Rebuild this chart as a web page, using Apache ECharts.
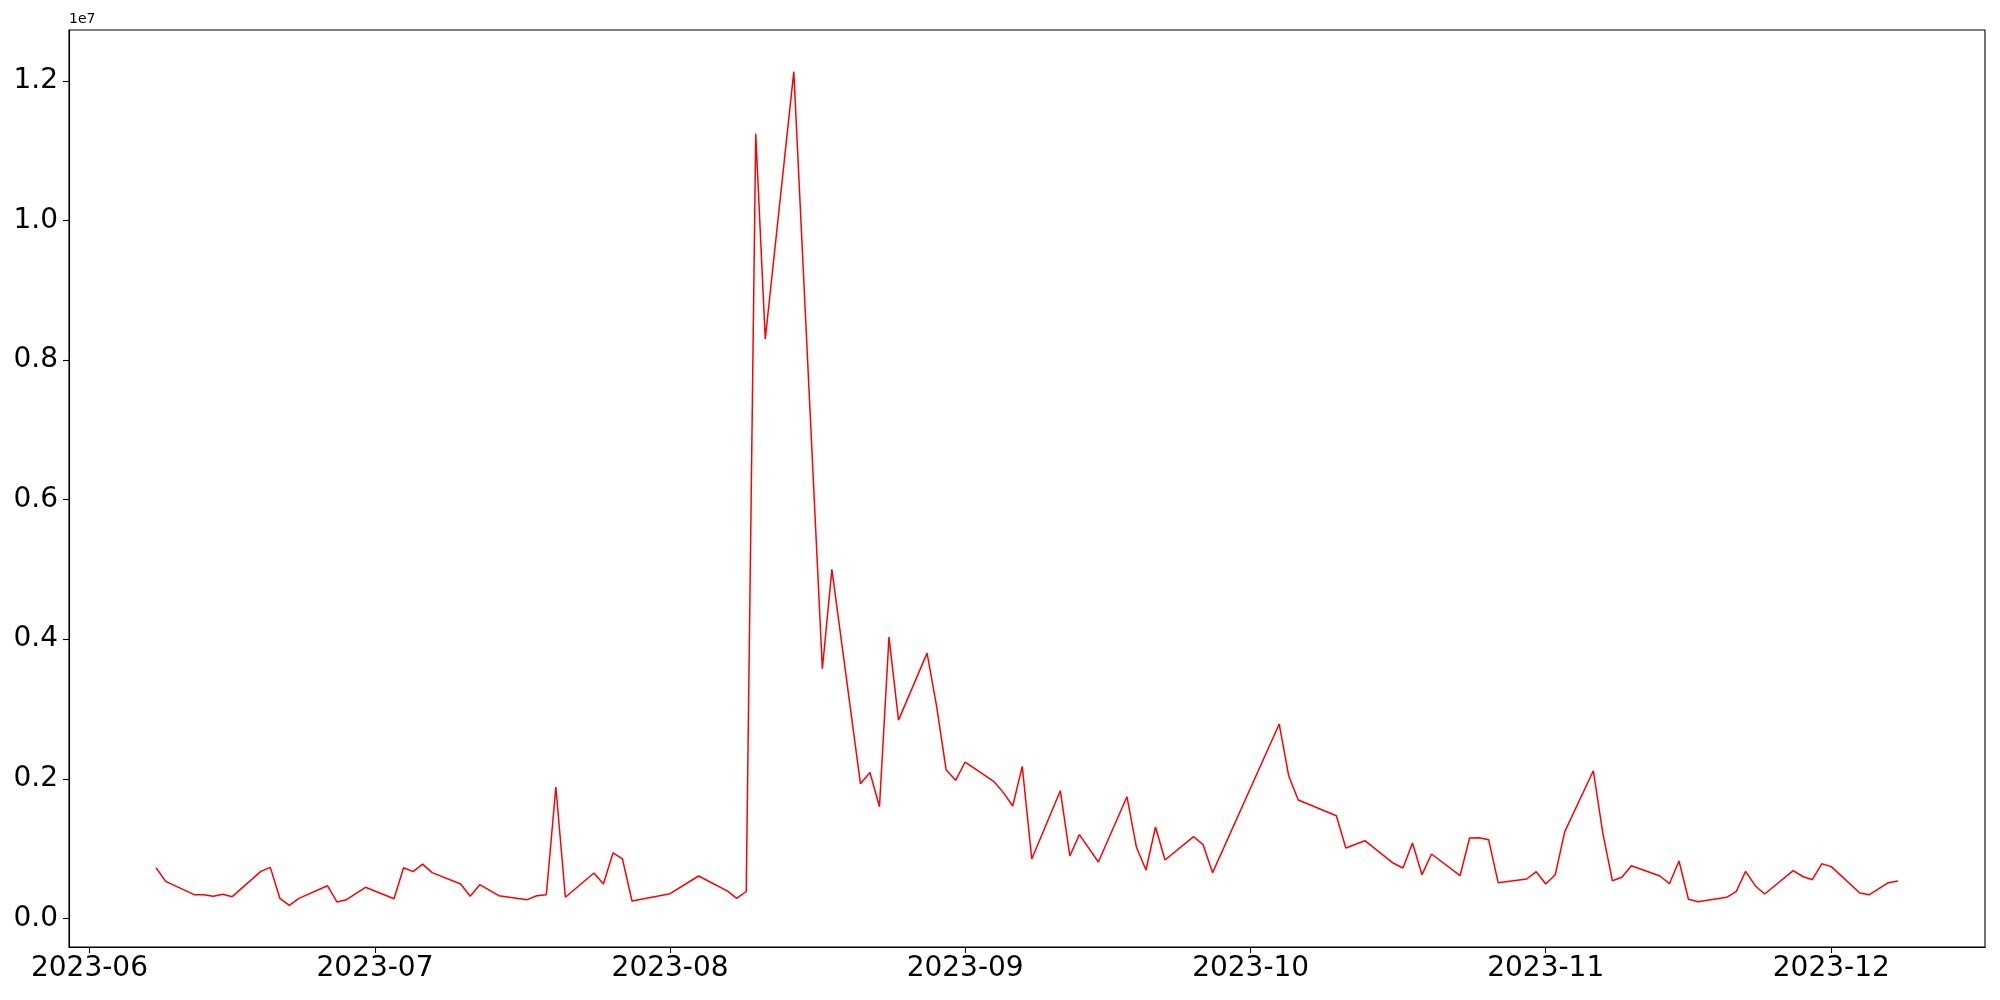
<!DOCTYPE html>
<html>
<head>
<meta charset="utf-8">
<script src="https://cdn.jsdelivr.net/npm/echarts@6/dist/echarts.min.js"></script>
<style>
html,body{margin:0;padding:0;background:#fff;}
#chart{width:2000px;height:1000px;}
</style>
</head>
<body>
<div id="chart"></div>
<script>
// Dates (trading days) and values in millions (axis shown in units of 1e7)
const dates = [
  "2023-06-08","2023-06-09","2023-06-12","2023-06-13","2023-06-14","2023-06-15","2023-06-16",
  "2023-06-19","2023-06-20","2023-06-21","2023-06-22","2023-06-23","2023-06-26","2023-06-27",
  "2023-06-28","2023-06-30","2023-07-03","2023-07-04","2023-07-05","2023-07-06","2023-07-07",
  "2023-07-10","2023-07-11","2023-07-12","2023-07-14","2023-07-17","2023-07-18","2023-07-19",
  "2023-07-20","2023-07-21","2023-07-24","2023-07-25","2023-07-26","2023-07-27","2023-07-28",
  "2023-08-01","2023-08-04","2023-08-07","2023-08-08","2023-08-09","2023-08-10","2023-08-11",
  "2023-08-14","2023-08-17","2023-08-18","2023-08-21","2023-08-22","2023-08-23","2023-08-24",
  "2023-08-25","2023-08-28","2023-08-29","2023-08-30","2023-08-31","2023-09-01","2023-09-04",
  "2023-09-05","2023-09-06","2023-09-07","2023-09-08","2023-09-11","2023-09-12","2023-09-13",
  "2023-09-15","2023-09-18","2023-09-19","2023-09-20","2023-09-21","2023-09-22","2023-09-25",
  "2023-09-26","2023-09-27","2023-10-04","2023-10-05","2023-10-06","2023-10-10","2023-10-11",
  "2023-10-13","2023-10-16","2023-10-17","2023-10-18","2023-10-19","2023-10-20","2023-10-23",
  "2023-10-24","2023-10-25","2023-10-26","2023-10-27","2023-10-30","2023-10-31","2023-11-01",
  "2023-11-02","2023-11-03","2023-11-06","2023-11-07","2023-11-08","2023-11-09","2023-11-10",
  "2023-11-13","2023-11-14","2023-11-15","2023-11-16","2023-11-17","2023-11-20","2023-11-21",
  "2023-11-22","2023-11-23","2023-11-24","2023-11-27","2023-11-28","2023-11-29","2023-11-30",
  "2023-12-01","2023-12-04","2023-12-05","2023-12-07","2023-12-08"
];
const valuesMillions = [
  0.726,0.531,0.340,0.340,0.316,0.345,0.311,
  0.674,0.731,0.287,0.187,0.287,0.468,0.235,
  0.268,0.445,0.282,0.726,0.669,0.777,0.655,
  0.493,0.316,0.483,0.325,0.268,0.325,0.340,
  1.882,0.302,0.650,0.493,0.937,0.851,0.249,
  0.354,0.607,0.393,0.287,0.385,11.24,8.30,
  12.13,3.576,5.00,1.93,2.09,1.60,4.03,
  2.84,3.80,3.04,2.13,1.977,2.240,1.963,
  1.805,1.610,2.178,0.851,1.829,0.894,1.199,
  0.808,1.743,1.018,0.693,1.309,0.836,1.170,
  1.056,0.655,2.784,2.039,1.696,1.471,1.008,
  1.113,0.789,0.722,1.080,0.626,0.922,0.612,
  1.151,1.156,1.127,0.511,0.564,0.669,0.493,
  0.626,1.242,2.115,1.219,0.540,0.588,0.755,
  0.607,0.497,0.822,0.273,0.239,0.302,0.382,
  0.674,0.468,0.349,0.683,0.600,0.554,0.782,
  0.741,0.364,0.340,0.511,0.536
];
const yTickValues = [0, 2, 4, 6, 8, 10, 12];       // millions -> labels 0.0 .. 1.2 (x1e7)
const xTickLabels = ["2023-06","2023-07","2023-08","2023-09","2023-10","2023-11","2023-12"];

function parseLocal(s){ const p = s.split('-').map(Number); return new Date(p[0], p[1]-1, p[2] || 1).getTime(); }
const seriesData = dates.map((d, i) => [parseLocal(d), valuesMillions[i]]);
const xTicks = xTickLabels.map(parseLocal);
const firstT = seriesData[0][0], lastT = seriesData[seriesData.length-1][0];
const xPad = (lastT - firstT) * 0.05;
const vMin = Math.min(...valuesMillions), vMax = Math.max(...valuesMillions);
const yPad = (vMax - vMin) * 0.05;

const FONT = 'DejaVu Sans';
const chart = echarts.init(document.getElementById('chart'), null, {renderer: 'canvas'});
chart.setOption({
  animation: false,
  backgroundColor: '#ffffff',
  grid: {left: 69, right: 15, top: 30, bottom: 53, show: true, borderColor: '#000', borderWidth: 1.1, containLabel: false},
  xAxis: {
    type: 'value',
    min: firstT - xPad,
    max: lastT + xPad,
    splitLine: {show: false},
    axisLine: {show: true, onZero: false, lineStyle: {color: '#000', width: 1.1}},
    axisTick: {show: true, length: 6, lineStyle: {color: '#000', width: 1.1}, customValues: xTicks},
    axisLabel: {
      customValues: xTicks,
      color: '#000', fontFamily: FONT, fontSize: 28, margin: 8,
      formatter: function(v){ const d = new Date(v); return d.getFullYear() + '-' + String(d.getMonth()+1).padStart(2,'0'); }
    }
  },
  yAxis: {
    type: 'value',
    min: vMin - yPad,
    max: vMax + yPad,
    splitLine: {show: false},
    axisLine: {show: true, onZero: false, lineStyle: {color: '#000', width: 1.1}},
    axisTick: {show: true, length: 6, lineStyle: {color: '#000', width: 1.1}, customValues: yTickValues},
    axisLabel: {
      customValues: yTickValues,
      color: '#000', fontFamily: FONT, fontSize: 28, margin: 11,
      formatter: function(v){ return (v/10).toFixed(1); }
    }
  },
  graphic: [{
    type: 'text', left: 69, top: 12,
    style: {text: '1e7', fontFamily: FONT, fontSize: 14, fill: '#000'}
  }],
  series: [{
    type: 'line',
    data: seriesData,
    showSymbol: false,
    lineStyle: {color: '#ff0000', width: 1.5},
    itemStyle: {color: '#ff0000'}
  }]
});
</script>
</body>
</html>
